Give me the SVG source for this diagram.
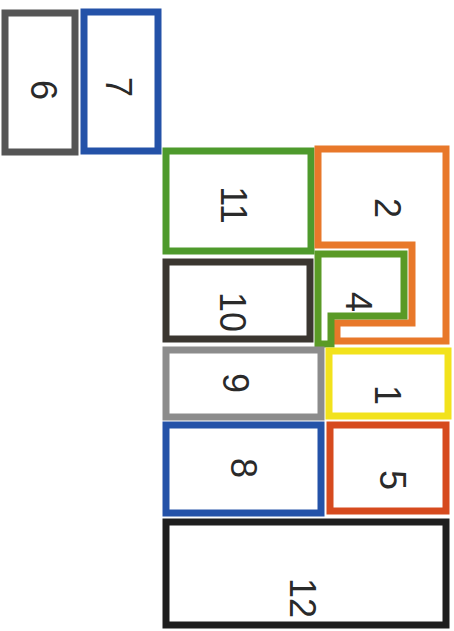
<svg xmlns="http://www.w3.org/2000/svg" width="454" height="631" viewBox="0 0 454 631">
<style>
.b{fill:#fff;stroke-width:7;stroke-linejoin:miter}
.t{font-family:"Liberation Sans",Arial,sans-serif;font-size:36px;fill:#2a2a2a;text-anchor:middle;dominant-baseline:central}
</style>
<rect width="454" height="631" fill="#fff"/>
<g id="connectors"/>
<g id="n6"><rect class="b" x="5" y="13" width="70" height="139" stroke="#555555"/><text class="t" transform="translate(43,90) rotate(90)">6</text></g>
<g id="n7"><rect class="b" x="84" y="12" width="74" height="139" stroke="#2452a8"/><text class="t" transform="translate(118,87) rotate(90)">7</text></g>
<g id="n11"><rect class="b" x="166" y="151" width="145" height="100" stroke="#4e9a2c"/><text class="t" transform="translate(233,205) rotate(90)">11</text></g>
<g id="n2"><path class="b" d="M318,149 H446 V341 H337 V323 H412 V245 H318 Z" stroke="#e8782a"/><text class="t" transform="translate(387,208) rotate(90)">2</text></g>
<g id="n4"><path class="b" d="M318,254 H404 V316 H331 V344 H318 Z" stroke="#5a9a26"/><text class="t" transform="translate(358,302) rotate(90)">4</text></g>
<g id="n10"><rect class="b" x="166" y="262" width="144" height="77" stroke="#3a3630"/><text class="t" transform="translate(232,312) rotate(90)">10</text></g>
<g id="n9"><rect class="b" x="166" y="350" width="155" height="67" stroke="#8c8c8c"/><text class="t" transform="translate(235,383) rotate(90)">9</text></g>
<g id="n1"><rect class="b" x="329" y="351" width="119" height="65" stroke="#f2e21c"/><text class="t" transform="translate(387,395) rotate(90)">1</text></g>
<g id="n8"><rect class="b" x="166" y="425" width="155" height="88" stroke="#2452a8"/><text class="t" transform="translate(243,468) rotate(90)">8</text></g>
<g id="n5"><rect class="b" x="330" y="425" width="116" height="86" stroke="#d64a1e"/><text class="t" transform="translate(392,480) rotate(90)">5</text></g>
<g id="n12"><rect class="b" x="166" y="522" width="280" height="103" stroke="#1e1e1e"/><text class="t" transform="translate(302,598) rotate(90)">12</text></g>
</svg>
